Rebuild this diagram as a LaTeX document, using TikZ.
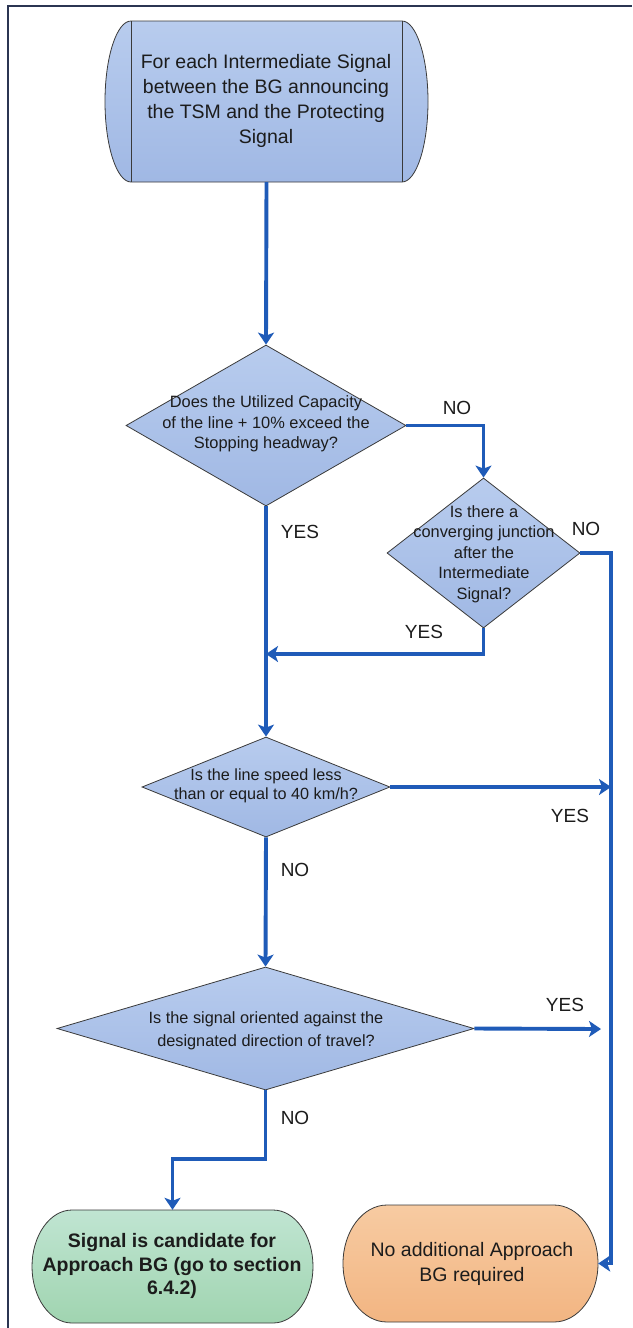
\documentclass[tikz,border=0pt]{standalone}
\usepackage{fontspec}
\setmainfont{Liberation Sans}
\usetikzlibrary{shapes.geometric,arrows.meta,calc}

\definecolor{flowblue}{HTML}{1F5BB8}
\definecolor{framenavy}{HTML}{2B3552}
\definecolor{edgegrey}{HTML}{3A3A3A}
\definecolor{inkgrey}{HTML}{1C1C1C}
\definecolor{bluelight}{HTML}{B8CCEE}
\definecolor{bluedark}{HTML}{A0B8E4}
\definecolor{greenlight}{HTML}{C0E5D2}
\definecolor{greendark}{HTML}{A0D4B0}
\definecolor{orangelight}{HTML}{F7CBA2}
\definecolor{orangedark}{HTML}{F2B582}

% capsule outline: left, top, right, bottom, depth of the rounded ends
\newcommand\capsulepath[5]{({#1+#5},#2) -- ({#3-#5},#2)
  .. controls ({#3-0.45*#5},#2) and (#3,{#2+0.224*(#4-#2)}) .. (#3,{0.5*(#2+#4)})
  .. controls (#3,{#4-0.224*(#4-#2)}) and ({#3-0.45*#5},#4) .. ({#3-#5},#4)
  -- ({#1+#5},#4)
  .. controls ({#1+0.45*#5},#4) and (#1,{#4-0.224*(#4-#2)}) .. (#1,{0.5*(#2+#4)})
  .. controls (#1,{#2+0.224*(#4-#2)}) and ({#1+0.45*#5},#2) .. ({#1+#5},#2) -- cycle}

\begin{document}
\begin{tikzpicture}[x=1pt,y=-1pt,
  flow/.style={draw=flowblue, line width=3.9pt, line join=miter,
    -{Stealth[length=12pt,width=16pt,inset=3pt]}},
  outline/.style={draw=edgegrey, line width=0.8pt},
  bluefill/.style={top color=bluelight, bottom color=bluedark},
  decision/.style={diamond, outline, bluefill, inner sep=0pt},
  holder/.style={rectangle, inner sep=0pt},
  qtext/.style={align=center, text=inkgrey, inner sep=0pt,
    font=\fontsize{16.4}{20.5}\selectfont},
  ttext/.style={align=center, text=inkgrey, inner sep=0pt,
    font=\fontsize{19.5}{25.3}\selectfont},
  lbl/.style={text=inkgrey, inner sep=0pt, font=\fontsize{19}{22}\selectfont}]

\useasboundingbox (0,0) rectangle (632,1328);

% page frame
\draw[framenavy, line width=2.6pt] (8,1328) -- (8,6) -- (632,6);

% start box with bulging ends
\path[outline, bluefill] \capsulepath{105}{21}{428}{182}{26};
\draw[outline] (131,21) -- (131,182) (402,21) -- (402,182);
\node[holder, minimum width=323pt, minimum height=161pt] (start) at (266.5,101.5) {};
\node[ttext] (startt) at (266,101) {For each Intermediate Signal\\between the BG announcing\\the TSM and the Protecting\\Signal};

% decisions
\node[decision, minimum width=280pt, minimum height=161pt] (d1) at (266,425.5) {};
\node[qtext] (d1t) at (266,424) {Does the Utilized Capacity\\of the line + 10\% exceed the\\Stopping headway?};

\node[decision, minimum width=193pt, minimum height=150pt] (d2) at (483.5,553) {};
\node[qtext] (d2t) at (484,554) {Is there a\\converging junction\\after the\\Intermediate\\Signal?};

\node[decision, minimum width=248pt, minimum height=100pt] (d3) at (266,787) {};
\node[qtext, font=\fontsize{16.2}{19.5}\selectfont] (d3t) at (266,786) {Is the line speed less\\than or equal to 40 km/h?};

\node[decision, minimum width=417pt, minimum height=123pt] (d4) at (265.5,1028.5) {};
\node[qtext, font=\fontsize{16.3}{23}\selectfont] (d4t) at (266,1031) {Is the signal oriented against the\\designated direction of travel?};

% terminals
\path[outline, top color=greenlight, bottom color=greendark] \capsulepath{32}{1210}{313}{1323}{40};
\node[holder, minimum width=281pt, minimum height=113pt] (cand) at (172.5,1266.5) {};
\node[ttext, font=\bfseries\fontsize{19.5}{23.7}\selectfont] (candt) at (172,1266) {Signal is candidate for\\Approach BG (go to section\\6.4.2)};

\path[outline, top color=orangelight, bottom color=orangedark] \capsulepath{343}{1205}{598}{1322}{44};
\node[holder, minimum width=255pt, minimum height=117pt] (done) at (470.5,1263.5) {};
\node[ttext, font=\fontsize{19.5}{25}\selectfont] (donet) at (472,1264) {No additional Approach\\BG required};

% connectors
\coordinate (rail) at (611,553);
\coordinate (join) at (266,654);
\coordinate (out4) at (601,1029);

\draw[flow] (start.south) -- (d1.north);
\draw[flow] (d1.east) -| (d2.north);
\draw[flow] (d1.south) -- (d3.north);
\draw[flow] (d2.east) -- (rail) |- (done.east);
\draw[flow] (d2.south) |- (join);
\draw[flow] (d3.east) -- (rail |- d3.east);
\draw[flow] (d3.south) -- (d4.north);
\draw[flow] (d4.east) -- (out4);
\draw[flow] (d4.south) -- ++(0,69) -| (cand.north);

% branch labels
\node[lbl] (l1) at (457,408) {NO};
\node[lbl] (l2) at (300,532) {YES};
\node[lbl] (l3) at (586,529) {NO};
\node[lbl] (l4) at (424,632) {YES};
\node[lbl] (l5) at (570,816) {YES};
\node[lbl] (l6) at (295,870) {NO};
\node[lbl] (l7) at (565,1005) {YES};
\node[lbl] (l8) at (295,1118) {NO};
\end{tikzpicture}
\end{document}
